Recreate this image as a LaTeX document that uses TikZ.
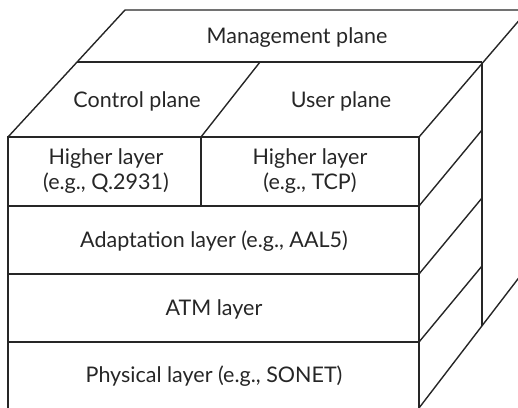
\documentclass[tikz,border=0pt]{standalone}
\usepackage{fontspec}
\setmainfont{Lato}
\begin{document}
\begin{tikzpicture}[x=1pt,y=-1pt,
  edge/.style={line width=1.4pt,black!85,line join=miter},
  lbl/.style={font=\fontsize{21.5}{25}\selectfont,text=black!85,align=center,inner sep=0pt}]
\useasboundingbox (0,0) rectangle (518,407);
\begin{scope}
\clip (0,0) rectangle (518,407);
% front face of the layer stack
\draw[edge] (8,420) -- (8,137) -- (419,137) -- (419,420);
\foreach \y in {206,274,342} \draw[edge] (8,\y) -- (419,\y);
\draw[edge] (201,137) -- (201,206);
% top face: control / user planes and management plane behind
\draw[edge] (8,137) -- (125,10) -- (560,10);
\draw[edge] (77,62) -- (482,62);
\draw[edge] (201,137) -- (260,62);
\draw[edge] (419,137) -- (540,-4);
% right side face
\draw[edge] (482,62) -- (482,326);
\draw[edge] (419,206) -- (482,130);
\draw[edge] (419,274) -- (482,198);
\draw[edge] (419,342) -- (482,266);
\draw[edge] (419,408) -- (570,211);
\end{scope}
% labels
\node[lbl] (mgmt) at (297,38) {Management plane};
\node[lbl] (ctrl) at (137,101) {Control plane};
\node[lbl] (user) at (341,101) {User plane};
\node[lbl] (hl1) at (106,171) {Higher layer\\(e.g., Q.2931)};
\node[lbl] (hl2) at (310,171) {Higher layer\\(e.g., TCP)};
\node[lbl] (aal) at (214,241) {Adaptation layer (e.g., AAL5)};
\node[lbl] (atm) at (214,309) {ATM layer};
\node[lbl] (phy) at (214,376) {Physical layer (e.g., SONET)};
\end{tikzpicture}
\end{document}
